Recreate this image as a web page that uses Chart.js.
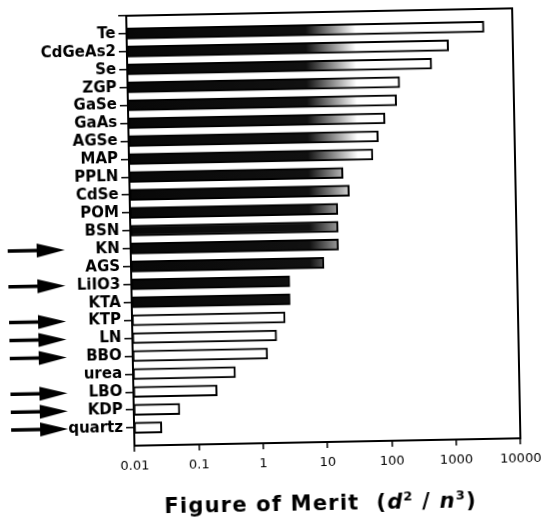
<!DOCTYPE html>
<html>
<head>
<meta charset="utf-8">
<script src="https://cdn.jsdelivr.net/npm/chart.js@4/dist/chart.umd.min.js"></script>
<style>
  html, body { margin: 0; padding: 0; background: #fff; overflow: hidden; }
  #wrap { position: relative; width: 546px; height: 528px; transform: rotate(-1.1deg); transform-origin: 273px 264px; }
  #fom { position: absolute; left: 0; top: 0; }
  #titulo { position: absolute; left: 96px; width: 440px; top: 492px; text-align: center;
            font: bold 21px "DejaVu Sans", sans-serif; letter-spacing: 1.2px; color: #000; white-space: pre; }
  #titulo sup { font-size: 13px; vertical-align: 8px; line-height: 0; }
</style>
</head>
<body>
<div id="wrap">
  <canvas id="fom" width="546" height="528"></canvas>
  <div id="titulo">Figure of Merit  (<i>d</i><sup>2</sup> / <i>n</i><sup>3</sup>)</div>
</div>
<script>
// cristales y su figura de merito d^2/n^3
const cristales = ['Te', 'CdGeAs2', 'Se', 'ZGP', 'GaSe', 'GaAs', 'AGSe', 'MAP', 'PPLN', 'CdSe', 'POM', 'BSN', 'KN',
                   'AGS', 'LiIO3', 'KTA', 'KTP', 'LN', 'BBO', 'urea', 'LBO', 'KDP', 'quartz'];
const merito = [3600, 1000, 540, 170, 150, 98, 76, 62, 21, 26, 17, 17, 17,
                10, 2.9, 2.9, 2.4, 1.75, 1.25, 0.39, 0.2, 0.052, 0.027];
// cristales senalados con flecha
const marcados = ['KN', 'LiIO3', 'KTP', 'LN', 'BBO', 'LBO', 'KDP', 'quartz'];
const ticksX = [0.01, 0.1, 1, 10, 100, 1000, 10000];

// un hueco vacio arriba y abajo del eje
const etiquetas = [''].concat(cristales, ['']);
const valores = [null].concat(merito, [null]);

function relleno(ctx){
    const chart = ctx.chart;
    const area = chart.chartArea;
    if(!area) return '#000';
    if(ctx.dataIndex > 16) return '#fff';
    const g = chart.ctx.createLinearGradient(area.left, 0, area.right, 0);
    const w = area.right - area.left;
    g.addColorStop(0, '#080808');
    g.addColorStop((310 - area.left) / w, '#111');
    g.addColorStop((360 - area.left) / w, '#fff');
    g.addColorStop(1, '#fff');
    return g;
}

const marco = {
    id: 'marco',
    afterDraw(chart){
        const {ctx, chartArea: a} = chart;
        ctx.save();
        ctx.strokeStyle = '#000';
        ctx.lineWidth = 2;
        ctx.strokeRect(a.left, a.top, a.right - a.left, a.bottom - a.top);
        // flechas
        const y = chart.scales.y;
        ctx.fillStyle = '#000';
        ctx.lineWidth = 3.5;
        marcados.forEach(m => {
            const py = y.getPixelForValue(etiquetas.indexOf(m));
            ctx.beginPath();
            ctx.moveTo(8, py);
            ctx.lineTo(42, py);
            ctx.stroke();
            ctx.beginPath();
            ctx.moveTo(37, py - 7);
            ctx.lineTo(65, py);
            ctx.lineTo(37, py + 7);
            ctx.closePath();
            ctx.fill();
        });
        ctx.restore();
    }
};

new Chart(document.getElementById('fom'), {
    type: 'bar',
    data: {
        labels: etiquetas,
        datasets: [{
            data: valores,
            backgroundColor: relleno,
            borderColor: '#000',
            borderWidth: 2,
            borderSkipped: false,
            barThickness: 11
        }]
    },
    options: {
        indexAxis: 'y',
        responsive: false,
        animation: false,
        layout: { padding: { top: 13, right: 29, bottom: 57, left: 0 } },
        plugins: { legend: { display: false }, tooltip: { enabled: false } },
        scales: {
            x: {
                type: 'logarithmic',
                min: 0.01,
                max: 10000,
                afterBuildTicks: s => { s.ticks = ticksX.map(v => ({ value: v })); },
                afterFit: s => { s.height = 28; },
                border: { color: '#000', width: 2 },
                grid: { drawOnChartArea: false, tickLength: 6, color: '#000', lineWidth: 1.5 },
                ticks: {
                    color: '#000',
                    padding: 7,
                    maxRotation: 0,
                    font: { family: 'DejaVu Sans', size: 13 },
                    callback: v => String(v)
                }
            },
            y: {
                offset: false,
                afterFit: s => { s.width = 131; },
                border: { color: '#000', width: 2 },
                grid: {
                    offset: false,
                    drawOnChartArea: false,
                    tickLength: 8,
                    lineWidth: 1.5,
                    color: c => (c.index === etiquetas.length - 1 ? 'rgba(0,0,0,0)' : '#000')
                },
                ticks: {
                    color: '#000',
                    padding: 3,
                    autoSkip: false,
                    font: { family: 'DejaVu Sans', size: 15, weight: 'bold' }
                }
            }
        }
    },
    plugins: [marco]
});
</script>
</body>
</html>
